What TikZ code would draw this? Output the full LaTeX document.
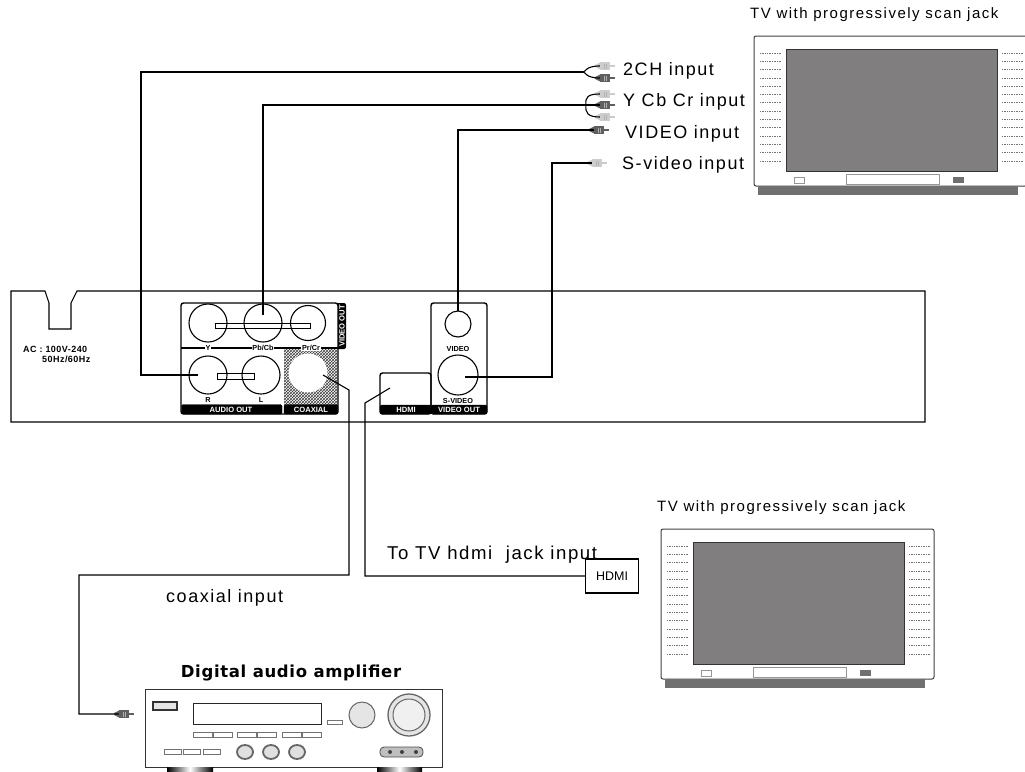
\documentclass[tikz,border=0pt]{standalone}
\usepackage{fontspec}
\setmainfont{Liberation Sans}
\newfontfamily\widefont[LetterSpace=8.5]{Liberation Sans}
\newfontfamily\tvfont[LetterSpace=10]{Liberation Sans}
\newfontfamily\acfont[LetterSpace=5]{Liberation Sans}
\newfontfamily\headfont[LetterSpace=4]{DejaVu Sans}
\usetikzlibrary{patterns, positioning}
\definecolor{screengray}{RGB}{128, 126, 126}
\definecolor{basegray}{RGB}{112, 112, 112}
\definecolor{plugdark}{RGB}{95, 95, 95}
\definecolor{pluglight}{RGB}{205, 205, 205}
\definecolor{trimgray}{RGB}{150, 150, 150}

\tikzset{
  cable/.style={line width=1.1pt, black},
  panel/.style={line width=1.4pt, black, rounded corners=2.5pt},
  barfill/.style={fill=black, draw=black, rounded corners=1.5pt},
  socket/.style={circle, draw=black, line width=1.1pt, inner sep=0pt, minimum size=#1},
  tinylabel/.style={font=\fontsize{7.3}{8}\selectfont\bfseries, inner sep=0.6pt},
  barlabel/.style={font=\fontsize{7.6}{8}\selectfont\bfseries, text=white, inner sep=0pt},
  inputlabel/.style={font=\fontsize{18}{20}\widefont, anchor=west, inner sep=0pt},
  tvlabel/.style={font=\fontsize{15}{17}\tvfont, anchor=west, inner sep=0pt},
  plugnode/.style={rectangle, fill=#1, minimum width=10pt, minimum height=8.5pt, inner sep=0pt},
  tvtrim/.style={draw=trimgray, line width=0.8pt},
  ampkey/.style={draw=black!55, fill=white, line width=0.8pt},
  ampknob/.style={draw=black!60, fill=black!12, line width=1.8pt},
  plugpic/.pic={
    \fill[pic actions] (-10,-0.9) -- (-5,-3.5) -- (-5,3.5) -- (-10,0.9) -- cycle;
    \fill[pic actions] (5,-0.9) rectangle (10,0.9);
    \draw[black!30, line width=0.4pt] (-1,-2.5) -- (-1,2.5) (1.5,-2.5) -- (1.5,2.5);
  },
  tvset/.pic={
    % Cabinet
    \draw[line width=1pt, draw=black!75, rounded corners=2pt] (273,0) -- (0,0) -- (0,150) -- (273,150) -- cycle;
    \fill[basegray] (4,150) rectangle (264,159);
    % Screen
    \draw[fill=screengray, line width=1pt, draw=black!80] (32,13) rectangle (243,135);
    % Front controls
    \draw[tvtrim, line width=0.9pt] (40,141) rectangle (50,147);
    \draw[tvtrim, line width=0.9pt] (92,138) rectangle (185,148);
    \fill[basegray] (199,141) rectangle (210,147);
    % Speaker grilles
    \foreach \row in {0,...,13} {
      \draw[black!55, densely dotted, line width=0.7pt] (6,17+8.3*\row) -- (27,17+8.3*\row);
      \draw[black!55, densely dotted, line width=0.7pt] (248,17+8.3*\row) -- (269,17+8.3*\row);
    }
  }
}

\begin{document}
\begin{tikzpicture}[x=1pt, y=-1pt]
  \useasboundingbox (0,0) rectangle (1025,771);

  % Player outline with mains notch
  \draw[line width=1.1pt] (11,291) -- (45,291) -- (49,303) -- (49,329) -- (71,329) -- (71,303) -- (77,291)
    -- (925,291) -- (925,422) -- (11,422) -- cycle;
  \node[font=\fontsize{9}{10.5}\acfont\bfseries, align=left, anchor=north west, inner sep=0pt] (mainsLabel) at (23,346)
    {AC : 100V-240\\\hspace*{19pt}50Hz/60Hz};

  % Audio and component panel
  \fill[black, rounded corners=2pt] (330,303) rectangle (346,349);
  \draw[panel, fill=white] (181,303) -- (338,303) -- (338,414) -- (181,414) -- cycle;
  \draw[line width=1.2pt] (181,348) -- (338,348);
  \node[barlabel, rotate=90] (videoTab) at (342,326) {VIDEO OUT};
  \fill[pattern=crosshatch, pattern color=black!75] (284,349) rectangle (338,404);
  \draw[barfill] (181.5,404.5) rectangle (282,414);
  \draw[barfill] (284,404.5) rectangle (338,414);
  \node[barlabel] (audioBar) at (231,409.5) {AUDIO OUT};
  \node[barlabel] (coaxBar) at (311,409.5) {COAXIAL};

  \node[socket=38pt] (sockY) at (208,323) {};
  \node[socket=38pt] (sockPb) at (263,323) {};
  \node[socket=35pt] (sockPr) at (308,323) {};
  \draw[line width=1pt] (215,323) rectangle (310,328);
  \node[tinylabel, fill=white] (labelY) at (208,348) {Y};
  \node[tinylabel, fill=white] (labelPb) at (263,348) {Pb/Cb};
  \node[tinylabel, fill=white] (labelPr) at (311,348) {Pr/Cr};

  \node[socket=38pt] (sockR) at (208,375) {};
  \node[socket=38pt] (sockL) at (261,375) {};
  \draw[line width=1pt] (217,373) rectangle (254,379);
  \node[tinylabel] (labelR) at (208,400) {R};
  \node[tinylabel] (labelL) at (261,400) {L};
  \node[circle, fill=white, inner sep=0pt, minimum size=39pt] (sockCoax) at (308,373) {};

  % Video panel
  \draw[panel] (431,303) rectangle (487,414);
  \draw[barfill] (431,405) rectangle (487,414);
  \node[barlabel] (videoBar) at (459,409.5) {VIDEO OUT};
  \node[socket=26pt] (sockVideo) at (458,324) {};
  \node[socket=40pt] (sockSvideo) at (458,375) {};
  \node[tinylabel] (labelVideo) at (458,349) {VIDEO};
  \node[tinylabel] (labelSvideo) at (458,401) {S-VIDEO};

  % HDMI panel
  \draw[panel] (380,373) rectangle (431,414);
  \draw[barfill] (380,405) rectangle (431,414);
  \node[barlabel] (hdmiBar) at (406,409.5) {HDMI};

  % Plugs
  \node[plugnode=pluglight] (plugAudioA) at (605,66) {};
  \node[plugnode=plugdark] (plugAudioB) at (605,78) {};
  \node[plugnode=pluglight] (plugCompA) at (605,94) {};
  \node[plugnode=plugdark] (plugCompB) at (605,105) {};
  \node[plugnode=pluglight] (plugCompC) at (605,117) {};
  \node[plugnode=plugdark] (plugVideo) at (599,130) {};
  \node[plugnode=pluglight] (plugSvideo) at (597,163) {};
  \node[plugnode=plugdark] (plugAmp) at (124,714) {};
  \pic[fill=pluglight] at (plugAudioA) {plugpic};
  \pic[fill=plugdark] at (plugAudioB) {plugpic};
  \pic[fill=pluglight] at (plugCompA) {plugpic};
  \pic[fill=plugdark] at (plugCompB) {plugpic};
  \pic[fill=pluglight] at (plugCompC) {plugpic};
  \pic[fill=plugdark] at (plugVideo) {plugpic};
  \pic[fill=pluglight] at (plugSvideo) {plugpic};
  \pic[fill=plugdark] at (plugAmp) {plugpic};

  % Cable end points
  \coordinate (endR) at (198,375);
  \coordinate (endPb) at (263,315);
  \coordinate (endVideo) at (458,311);
  \coordinate (endSvideo) at (465,377);
  \coordinate (endCoax) at (323,375);
  \coordinate (endHdmi) at (390,388);
  \coordinate (turnAudio) at (141,72);
  \coordinate (forkAudio) at (583,72);
  \coordinate (forkComp) at (586,105);
  \coordinate (turnSvideo) at (552,163);
  \coordinate (turnCoaxA) at (349,390);
  \coordinate (turnCoaxB) at (349,575);
  \coordinate (turnCoaxC) at (79,575);
  \coordinate (turnHdmi) at (365,403);

  % Cables
  \draw[cable] (endR) -| (turnAudio) -- (forkAudio);
  \draw[cable] (forkAudio) .. controls (586,72) and (585,66) .. (plugAudioA.west);
  \draw[cable] (forkAudio) .. controls (586,72) and (585,78) .. (plugAudioB.west);
  \draw[cable] (endPb) |- (plugCompB.west);
  \draw[cable] (forkComp) .. controls (585,97) and (588,94) .. (plugCompA.west);
  \draw[cable] (forkComp) .. controls (585,113) and (588,117) .. (plugCompC.west);
  \draw[cable] (endVideo) |- (plugVideo.west);
  \draw[cable] (endSvideo) -| (turnSvideo) -- (plugSvideo.west);
  \draw[cable] (endCoax) -- (turnCoaxA) -- (turnCoaxB) -- (turnCoaxC) |- (plugAmp.west);

  % Input labels
  \node[inputlabel] (label2ch) at (623,71) {2CH input};
  \node[inputlabel] (labelComp) at (623,102) {Y Cb Cr input};
  \node[inputlabel] (labelComposite) at (625,134) {VIDEO input};
  \node[inputlabel] (labelSinput) at (622,165) {S-video input};

  % Upper TV
  \node[tvlabel] (tvLabelTop) at (750,15) {TV with progressively scan jack};
  \pic at (754,36) {tvset};

  % Lower TV with HDMI link
  \node[tvlabel] (tvLabelLow) at (657,508) {TV with progressively scan jack};
  \pic at (661,529) {tvset};
  \node[draw, line width=1.1pt, minimum width=53pt, minimum height=34pt, inner sep=0pt, font=\fontsize{12.5}{14}\selectfont] (boxHdmi) at (612,576) {HDMI};
  \draw[cable] (endHdmi) -- (turnHdmi) |- (boxHdmi.west);
  \node[inputlabel, font=\fontsize{18.6}{20}\widefont] (labelHdmi) at (387,555) {To TV hdmi\ \ jack input};
  \node[inputlabel] (labelCoax) at (166,598) {coaxial input};

  % Amplifier
  \node[font=\fontsize{16.5}{18}\headfont\bfseries] (ampTitle) at (291,673) {Digital audio amplifier};
  \draw[line width=1pt, black!80] (145,689) rectangle (442,767);
  \shade[left color=black, right color=black, middle color=white] (167,767) rectangle (213,771);
  \shade[left color=black, right color=black, middle color=white] (377,767) rectangle (422,771);
  \draw[line width=1.2pt, black!80, fill=black!10] (153,702) rectangle (177,710);
  \draw[line width=1pt, black!85] (193,703) rectangle (321,724);
  \draw[ampkey] (327,720) rectangle (342,724);
  \draw[ampknob, line width=1pt, fill=black!10] (362,715) circle (13);
  \draw[ampknob, line width=1.3pt, fill=black!10] (409,715) circle (21);
  \draw[black!60, line width=1pt, fill=black!6] (409,715) circle (16);
  \foreach \keyx in {193,213,237,257,282,302} {
    \draw[ampkey] (\keyx,732) rectangle (\keyx+19.5,737);
  }
  \foreach \keyx in {164,183,203} {
    \draw[ampkey] (\keyx,749) rectangle (\keyx+17,754);
  }
  \foreach \knobx in {245,271,297} {
    \draw[ampknob] (\knobx,752) ellipse (8 and 7);
  }
  \draw[black!70, fill=black!25, line width=0.8pt, rounded corners=4pt] (380,747) rectangle (423,757);
  \foreach \jackx in {390,402,416} {
    \fill[black!75] (\jackx,752) circle (2);
  }
\end{tikzpicture}
\end{document}
